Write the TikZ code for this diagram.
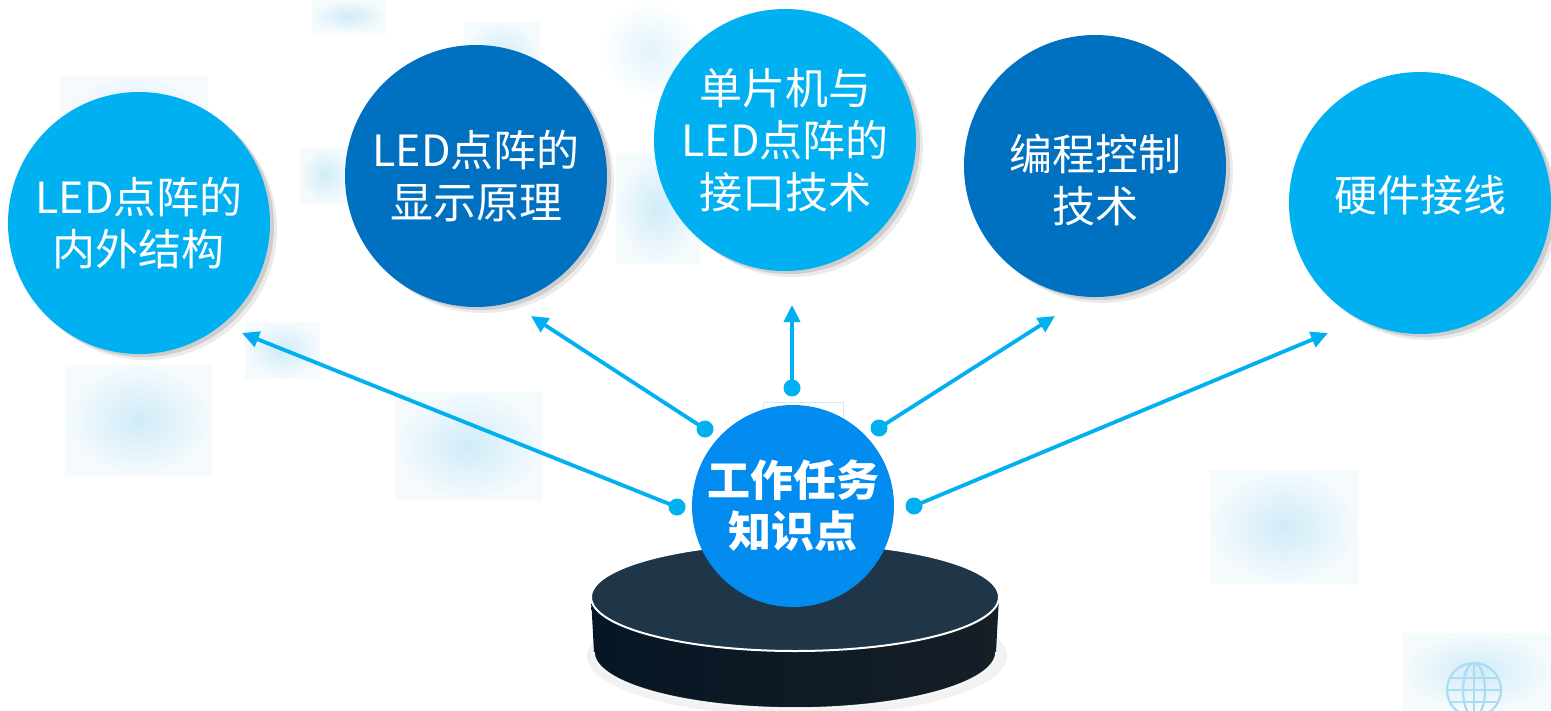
\documentclass[tikz,border=0pt]{standalone}
\usepackage{fontspec}
\setmainfont{Noto Sans CJK SC}
\usetikzlibrary{arrows.meta,shadings}
\definecolor{lblue}{RGB}{0,176,240}
\definecolor{dblue}{RGB}{0,112,192}
\definecolor{cblue}{RGB}{2,140,240}
\definecolor{ptop}{RGB}{31,53,72}
\definecolor{psideA}{RGB}{6,22,36}
\definecolor{psideB}{RGB}{1,18,32}
\definecolor{psideC}{RGB}{22,30,38}
\definecolor{bgin}{RGB}{208,236,248}
\definecolor{bgout}{RGB}{245,250,253}
\definecolor{globe}{RGB}{170,220,242}
\tikzset{
  bgrect/.style={inner color=bgin, outer color=bgout},
  topic/.style={circle, minimum size=262pt, inner sep=0pt, text=white, align=center,
    font=\fontsize{43}{52}\selectfont,
    preaction={fill=black, opacity=0.08, transform canvas={shift={(7pt,-6pt)}}},
    preaction={fill=black, opacity=0.12, transform canvas={shift={(4pt,-3pt)}}}},
  lightc/.style={topic, fill=lblue},
  darkc/.style={topic, fill=dblue},
  intext/.style={text=white, align=center, font=\fontsize{43}{52}\selectfont},
  hub/.style={circle, minimum size=202pt, inner sep=0pt, fill=cblue, text=white, align=center,
    font=\fontsize{43}{51}\selectfont\bfseries},
  arr/.style={draw=lblue, line width=3.8pt, -{Triangle[length=17pt,width=16pt]}},
  dotc/.style={circle, fill=lblue, minimum size=17pt, inner sep=0pt}
}
\begin{document}
\begin{tikzpicture}[x=1pt,y=-1pt]
\useasboundingbox (0,0) rectangle (1551,710);
\fill[white] (0,0) rectangle (1551,710);
% faint background tiles
\shade[bgrect] (65,365) rectangle (212,475);
\shade[bgrect] (395,392) rectangle (542,500);
\shade[bgrect] (245,322) rectangle (320,378);
\shade[bgrect] (312,0) rectangle (386,32);
\shade[bgrect] (464,22) rectangle (540,90);
\shade[bgrect] (60,75) rectangle (208,180);
\shade[bgrect] (300,147) rectangle (350,203);
\shade[inner color=bgin!60!white, outer color=white] (600,0) rectangle (700,100);
\shade[bgrect] (616,153) rectangle (700,263);
\shade[bgrect] (1210,470) rectangle (1358,583);
\shade[bgrect] (1403,633) rectangle (1551,710);
\draw[globe!60, line width=0.8pt] (763,402) rectangle (843,440);
% globe icon
\begin{scope}[draw=globe, line width=2.2pt]
  \draw (1474,690) circle[radius=27];
  \draw (1474,690) ellipse[x radius=11, y radius=27];
  \draw (1447,690) -- (1501,690);
  \draw (1450,678) -- (1498,678);
  \draw (1450,702) -- (1498,702);
  \draw (1474,663) -- (1474,717);
\end{scope}
% platform shadow
\fill[black, opacity=0.05] (797,656) ellipse[x radius=210, y radius=60];
% platform side
\shade[left color=psideA, middle color=psideB, right color=psideC]
  (591,597) -- (594,652) arc[start angle=180, end angle=0, x radius=201, y radius=56]
  -- (999,597) arc[start angle=0, end angle=180, x radius=204, y radius=54] -- cycle;
\draw[white, line width=1.6pt, opacity=0.9]
  (594,652) arc[start angle=180, end angle=0, x radius=201, y radius=56];
% platform top
\draw[white, line width=2pt, fill=ptop] (795,597) ellipse[x radius=204, y radius=54];
% topic circles
\node[lightc] (c1) at (139,223) {LED点阵的\\内外结构};
\node[darkc]  (c2) at (476,176) {LED点阵的\\显示原理};
\node[lightc] (c3) at (785,140) {单片机与\\LED点阵的\\接口技术};
\node[darkc]  (c4) at (1095,166) {};
\node[intext] (c4t) at (1095,180) {编程控制\\技术};
\node[lightc] (c5) at (1420,203) {};
\node[intext] (c5t) at (1420,195) {硬件接线};
% hub
\node[hub] (hub) at (793,506) {工作任务\\知识点};
% connector ends
\coordinate (t1) at (242,333);
\coordinate (t2) at (531,316);
\coordinate (t3) at (792,305);
\coordinate (t4) at (1055,316);
\coordinate (t5) at (1328,333);
\node[dotc] (d1) at (677,507) {};
\node[dotc] (d2) at (705,429) {};
\node[dotc] (d3) at (792,388) {};
\node[dotc] (d4) at (879,428) {};
\node[dotc] (d5) at (914,506) {};
\draw[arr] (d1.center) -- (t1);
\draw[arr] (d2.center) -- (t2);
\draw[arr] (d3.center) -- (t3);
\draw[arr] (d4.center) -- (t4);
\draw[arr] (d5.center) -- (t5);
\end{tikzpicture}
\end{document}
